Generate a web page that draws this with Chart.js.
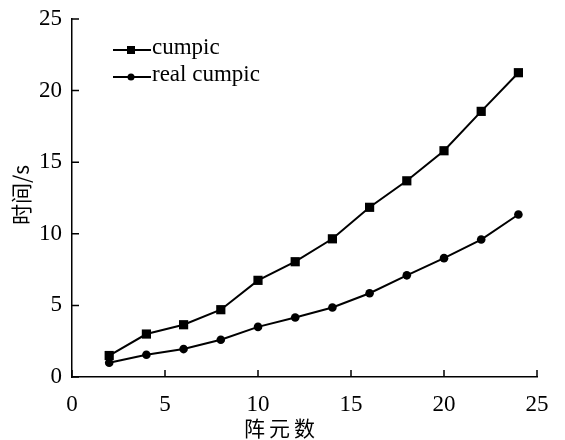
<!DOCTYPE html>
<html>
<head>
<meta charset="utf-8">
<script src="https://cdn.jsdelivr.net/npm/chart.js@4"></script>
<style>
  html, body { margin: 0; padding: 0; background: #fff; }
  #wrap { width: 565px; height: 440px; }
</style>
</head>
<body>
<div id="wrap"><canvas id="chart" width="565" height="440"></canvas></div>
<script>
// element counts on the x axis
const elements = [2, 4, 6, 8, 10, 12, 14, 16, 18, 20, 22, 24];
// time in seconds
const cumpic     = [1.5, 3.0, 3.65, 4.7, 6.75, 8.05, 9.65, 11.85, 13.7, 15.8, 18.55, 21.25];
const realCumpic = [1.0, 1.55, 1.95, 2.6, 3.5, 4.15, 4.85, 5.85, 7.1, 8.3, 9.6, 11.35];
const xTicks = [0, 5, 10, 15, 20, 25];
const yTicks = [0, 5, 10, 15, 20, 25];

const SERIF = '"Liberation Serif", "DejaVu Serif", serif';
const CJK = '"Noto Sans CJK SC", sans-serif';

const toPoints = (ys) => ys.map((y, i) => ({ x: elements[i], y }));

// inward tick marks, axis titles and the small legend at top left
const decor = {
  id: 'decor',
  afterDraw(chart) {
    const { ctx, chartArea: a, scales: { x, y } } = chart;
    ctx.save();
    ctx.strokeStyle = '#000';
    ctx.lineWidth = 1.5;
    ctx.beginPath();
    xTicks.forEach(v => {
      const px = x.getPixelForValue(v);
      ctx.moveTo(px, a.bottom);
      ctx.lineTo(px, a.bottom - 7);
    });
    yTicks.forEach(v => {
      const py = y.getPixelForValue(v);
      ctx.moveTo(a.left, py);
      ctx.lineTo(a.left + 7, py);
    });
    ctx.stroke();

    // axis titles
    ctx.fillStyle = '#000';
    ctx.font = '21px ' + CJK;
    ctx.textAlign = 'left';
    ctx.textBaseline = 'middle';
    ctx.letterSpacing = '4px';
    ctx.fillText('阵元数', 244, 428);
    ctx.letterSpacing = '0px';
    ctx.textAlign = 'center';
    ctx.save();
    ctx.translate(21, 195);
    ctx.rotate(-Math.PI / 2);
    ctx.fillText('时间/s', 0, 0);
    ctx.restore();

    // legend
    const items = [
      { label: 'cumpic', style: 'rect', yy: 50 },
      { label: 'real cumpic', style: 'circle', yy: 77 },
    ];
    ctx.font = '23px ' + SERIF;
    ctx.textAlign = 'left';
    items.forEach(it => {
      ctx.lineWidth = 1.8;
      ctx.beginPath();
      ctx.moveTo(113, it.yy);
      ctx.lineTo(151, it.yy);
      ctx.stroke();
      ctx.beginPath();
      if (it.style === 'rect') ctx.rect(127, it.yy - 4, 8, 8);
      else ctx.arc(131, it.yy, 3.5, 0, Math.PI * 2);
      ctx.fill();
      ctx.fillText(it.label, 152, it.yy - 2);
    });
    ctx.restore();
  }
};

new Chart(document.getElementById('chart'), {
  type: 'line',
  data: {
    datasets: [
      {
        label: 'cumpic',
        data: toPoints(cumpic),
        borderColor: '#000',
        backgroundColor: '#000',
        borderWidth: 2,
        pointStyle: 'rect',
        pointRadius: 6.5,
        pointBorderWidth: 0,
        tension: 0,
      },
      {
        label: 'real cumpic',
        data: toPoints(realCumpic),
        borderColor: '#000',
        backgroundColor: '#000',
        borderWidth: 2,
        pointStyle: 'circle',
        pointRadius: 4.3,
        pointBorderWidth: 0,
        tension: 0,
      },
    ],
  },
  options: {
    responsive: false,
    animation: false,
    clip: false,
    layout: { padding: { top: 19, right: 28, left: 0, bottom: 0 } },
    plugins: { legend: { display: false }, tooltip: { enabled: false } },
    scales: {
      x: {
        type: 'linear',
        min: 0, max: 25,
        afterBuildTicks: (s) => { s.ticks = xTicks.map(v => ({ value: v })); },
        afterFit: (s) => { s.height = 63; s.paddingLeft = 0; s.paddingRight = 0; },
        grid: { display: false, drawTicks: false },
        border: { display: true, color: '#000', width: 1.5 },
        ticks: { color: '#000', padding: 14, maxRotation: 0, font: { family: SERIF, size: 23 } },
      },
      y: {
        min: 0, max: 25,
        afterBuildTicks: (s) => { s.ticks = yTicks.map(v => ({ value: v })); },
        afterFit: (s) => { s.width = 72; s.paddingTop = 0; s.paddingBottom = 0; },
        grid: { display: false, drawTicks: false },
        border: { display: true, color: '#000', width: 1.5 },
        ticks: { color: '#000', padding: 10, font: { family: SERIF, size: 23 } },
      },
    },
  },
  plugins: [decor],
});
</script>
</body>
</html>
